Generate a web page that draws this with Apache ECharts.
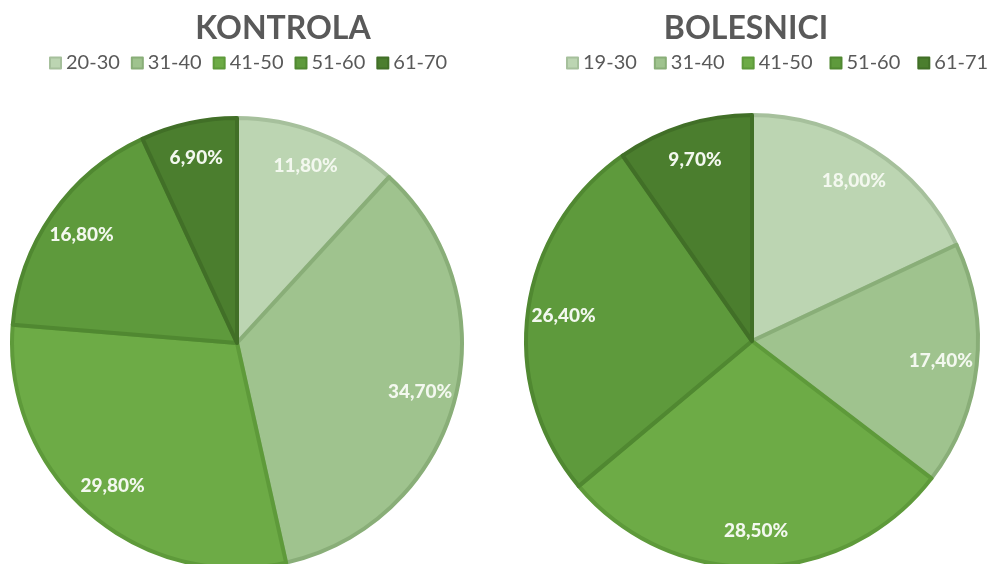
<!DOCTYPE html>
<html>
<head>
<meta charset="utf-8">
<script src="https://cdn.jsdelivr.net/npm/echarts@6/dist/echarts.min.js"></script>
<style>
  html, body { margin: 0; padding: 0; background: #fff; }
  #main { width: 989px; height: 564px; }
</style>
</head>
<body>
<div id="main"></div>
<script>
// podaci
var kontrolaGroups = ['20-30', '31-40', '41-50', '51-60', '61-70'];
var kontrolaValues = [11.8, 34.7, 29.8, 16.8, 6.9];
var bolesniciGroups = ['19-30', '31-40', '41-50', '51-60', '61-71'];
var bolesniciValues = [18.0, 17.4, 28.5, 26.4, 9.7];

// boje (ispuna / rub)
var fills = ['#bcd5b2', '#9fc38e', '#6dab46', '#5e9a3c', '#4b7e2e'];
var borders = ['#a6c09c', '#89ae78', '#5e9a3a', '#508831', '#416f27'];

var font = 'Lato, "Open Sans", sans-serif';

function pieData(groups, values) {
    return groups.map(function (g, i) {
        return {
            name: g,
            value: values[i],
            itemStyle: { color: fills[i], borderColor: borders[i], borderWidth: 4 }
        };
    });
}

function labelData(groups, values) {
    return groups.map(function (g, i) {
        return { name: g, value: values[i] };
    });
}

function fmt(p) {
    return p.value.toFixed(2).replace('.', ',') + '%';
}

var chart = echarts.init(document.getElementById('main'));

var labelStyle = {
    show: true,
    position: 'inside',
    formatter: fmt,
    color: '#f3f8ef',
    fontFamily: font,
    fontWeight: 900,
    fontSize: 19
};

chart.setOption({
    animation: false,
    title: [
        {
            text: 'KONTROLA', left: 278, top: 8, textAlign: 'center',
            textStyle: { fontFamily: font, fontWeight: 'bold', fontSize: 32, color: '#595959' }
        },
        {
            text: 'BOLESNICI', left: 741, top: 8, textAlign: 'center',
            textStyle: { fontFamily: font, fontWeight: 'bold', fontSize: 32, color: '#595959' }
        }
    ],
    legend: [
        {
            data: kontrolaGroups, left: 44, top: 48, width: 440,
            itemWidth: 11, itemHeight: 11, itemGap: 11,
            icon: 'rect', selectedMode: false,
            textStyle: { fontFamily: font, fontSize: 20, color: '#595959' }
        },
        {
            data: bolesniciGroups, left: 561, top: 48, width: 430,
            itemWidth: 11, itemHeight: 11, itemGap: 17,
            icon: 'rect', selectedMode: false,
            textStyle: { fontFamily: font, fontSize: 20, color: '#595959' }
        }
    ],
    series: [
        {
            name: 'KONTROLA', type: 'pie',
            center: [237, 343], radius: [0, 225],
            startAngle: 90, clockwise: true,
            label: { show: false }, labelLine: { show: false },
            emphasis: { disabled: true },
            data: pieData(kontrolaGroups, kontrolaValues)
        },
        {
            name: 'KONTROLA-labels', type: 'pie', silent: true,
            center: [237, 343], radius: [148, 225],
            startAngle: 90, clockwise: true,
            itemStyle: { color: 'rgba(0,0,0,0)' },
            label: labelStyle, labelLine: { show: false },
            legendHoverLink: false,
            data: labelData(kontrolaGroups, kontrolaValues)
        },
        {
            name: 'BOLESNICI', type: 'pie',
            center: [752, 341], radius: [0, 226],
            startAngle: 90, clockwise: true,
            label: { show: false }, labelLine: { show: false },
            emphasis: { disabled: true },
            data: pieData(bolesniciGroups, bolesniciValues)
        },
        {
            name: 'BOLESNICI-labels', type: 'pie', silent: true,
            center: [752, 341], radius: [148, 226],
            startAngle: 90, clockwise: true,
            itemStyle: { color: 'rgba(0,0,0,0)' },
            label: labelStyle, labelLine: { show: false },
            legendHoverLink: false,
            data: labelData(bolesniciGroups, bolesniciValues)
        }
    ]
});
</script>
</body>
</html>
